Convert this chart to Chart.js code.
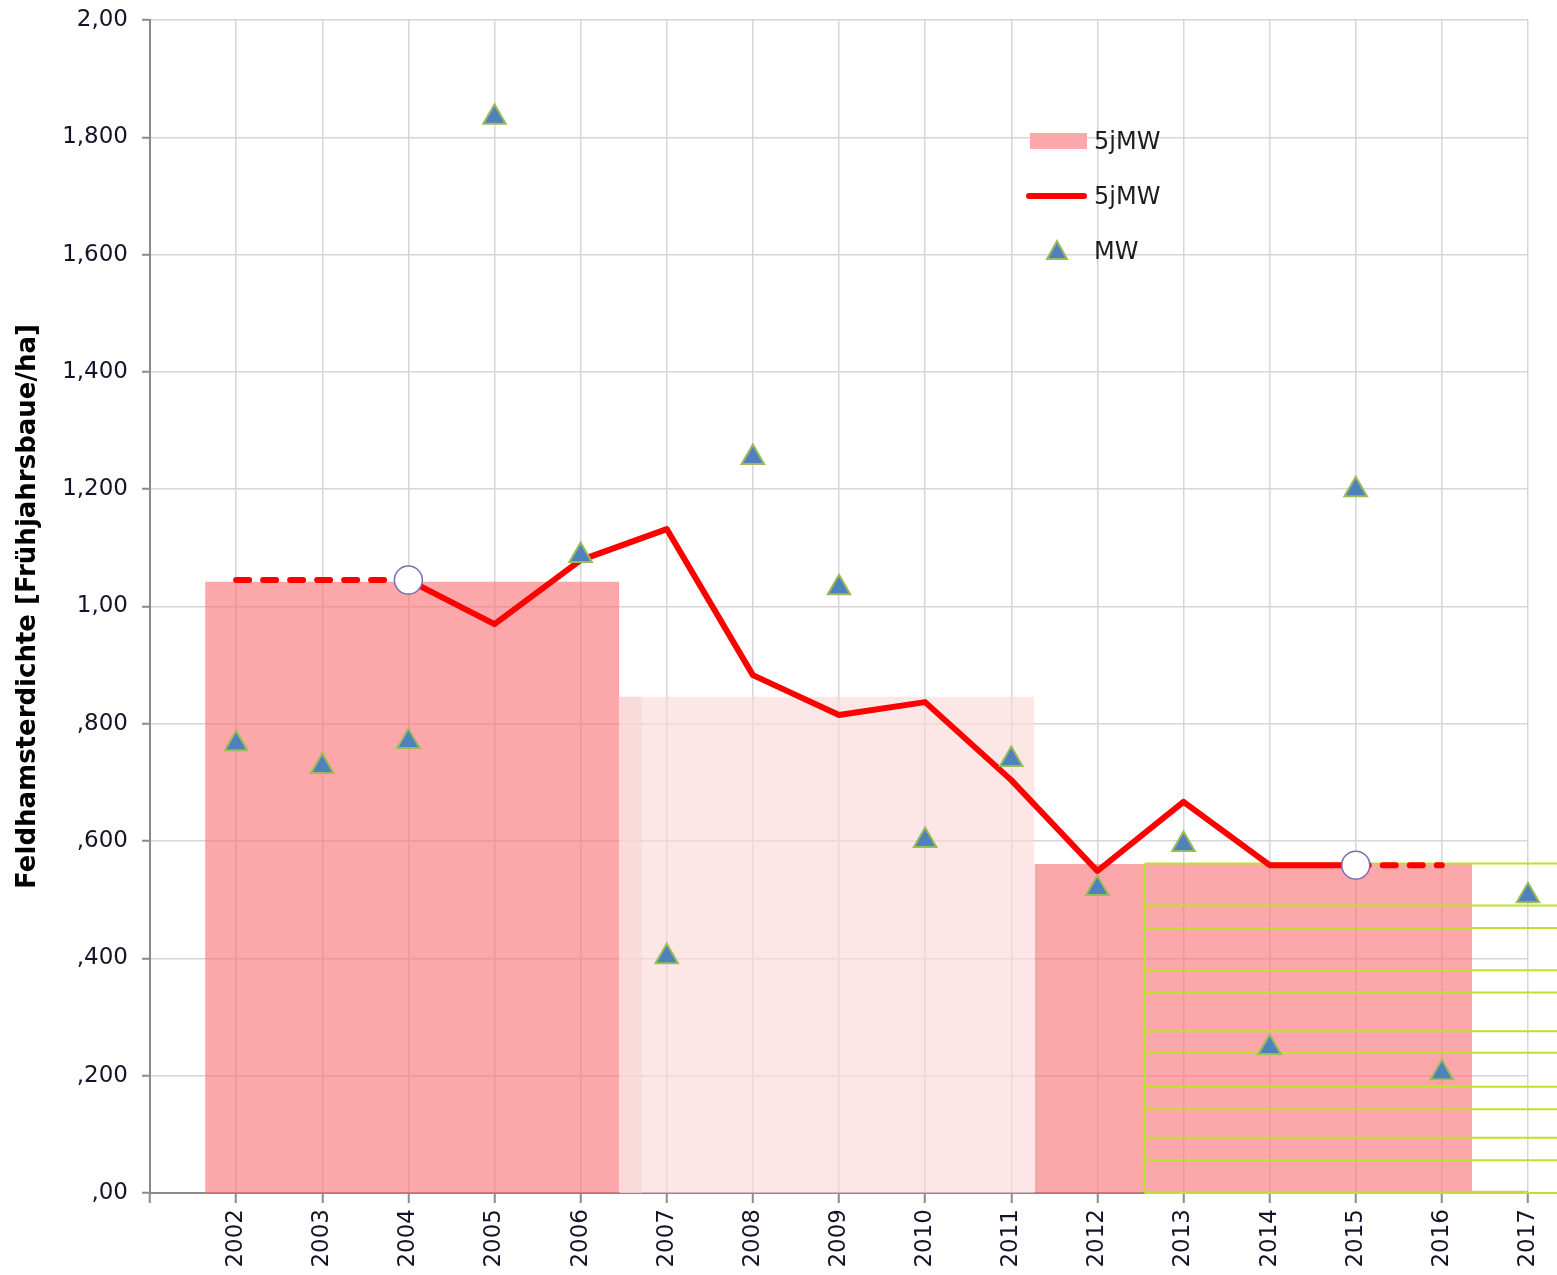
<!DOCTYPE html>
<html>
<head>
<meta charset="utf-8">
<script src="https://cdn.jsdelivr.net/npm/chart.js@4.4.1/dist/chart.umd.min.js"></script>
<style>
  html, body { margin: 0; padding: 0; background: #ffffff; }
  #wrap { position: relative; width: 1557px; height: 1275px; }
  #c { position: absolute; left: 0; top: 0; }
  .lg { position: absolute; font-family: "DejaVu Sans", Verdana, sans-serif; font-size: 24px; color: #1e1e1e; line-height: 24px; white-space: nowrap; }
  .lgbox { position: absolute; left: 1030px; top: 133px; width: 57px; height: 16px; background: #fca8aa; }
  .lgline { position: absolute; left: 1026px; top: 193px; width: 61px; height: 6px; border-radius: 3px; background: #ff0000; }
  .lgtri { position: absolute; left: 1045px; top: 239px; width: 24px; height: 22px; }
</style>
</head>
<body>
<div id="wrap">
  <canvas id="c" width="1557" height="1275"></canvas>
  <div class="lgbox"></div>
  <div class="lg" style="left:1094px; top:129px;">5jMW</div>
  <div class="lgline"></div>
  <div class="lg" style="left:1094px; top:184px;">5jMW</div>
  <svg class="lgtri" viewBox="0 0 24 22"><polygon points="12,2 22,20 2,20" fill="#4f81bd" stroke="#9bbb59" stroke-width="2"/></svg>
  <div class="lg" style="left:1094px; top:239px;">MW</div>
</div>
<script>
// ---- data ----
const years = [2002, 2003, 2004, 2005, 2006, 2007, 2008, 2009, 2010, 2011, 2012, 2013, 2014, 2015, 2016, 2017];
const xTickLabels = ["2002", "2003", "2004", "2005", "2006", "2007", "2008", "2009", "2010", "2011", "2012", "2013", "2014", "2015", "2016", "2017"];
const yTickLabels = [",00", ",200", ",400", ",600", ",800", "1,00", "1,200", "1,400", "1,600", "1,800", "2,00"];

// MW (triangles)
const mw = [0.766, 0.727, 0.770, 1.834, 1.087, 0.403, 1.254, 1.032, 0.601, 0.739, 0.519, 0.594, 0.248, 1.199, 0.205, 0.507];

// 5jMW line
const mw5Years = [2004, 2005, 2006, 2007, 2008, 2009, 2010, 2011, 2012, 2013, 2014, 2015];
const mw5 = [1.045, 0.970, 1.079, 1.132, 0.883, 0.815, 0.837, 0.704, 0.549, 0.667, 0.559, 0.559];
// dashed extensions
const dashStartYears = [2002, 2004];
const dashStartVals = [1.045, 1.045];
const dashEndYears = [2015, 2016];
const dashEndVals = [0.559, 0.559];
// open circle markers
const circleYears = [2004, 2015];
const circleVals = [1.045, 0.559];

// 5jMW blocks (x extents in years, height)
const blockStart = [2001.64, 2006.45, 2006.45, 2011.27, 2012.55, 2016.35];
const blockEnd   = [2006.45, 2011.27, 2006.71, 2012.55, 2016.35, 2017.00];
const blockVal   = [1.042, 0.846, 0.846, 0.561, 0.561, 0.004];
const blockColor = ["rgba(250,110,113,0.6)", "rgba(252,213,213,0.6)", "rgba(236,210,210,0.6)",
                    "rgba(250,110,113,0.6)", "rgba(250,110,113,0.6)", "rgba(250,110,113,0.6)"];

// hatch pattern (horizontal lines) over the last block
const hatchStart = 2012.55;
const hatchEnd = 2017.34;
const hatchLevels = [0.562, 0.490, 0.452, 0.380, 0.342, 0.276, 0.239, 0.181, 0.143, 0.094, 0.056, 0.0];

// ---- datasets ----
const datasets = [];

datasets.push({
  label: "MW", order: 0, clip: false,
  data: years.map((y, i) => ({ x: y, y: mw[i] })),
  showLine: false, pointStyle: "triangle", pointRadius: 13,
  pointBackgroundColor: "#4f81bd", pointBorderColor: "#9bbb59", pointBorderWidth: 2
});

datasets.push({
  label: "circles", order: 1,
  data: circleYears.map((y, i) => ({ x: y, y: circleVals[i] })),
  showLine: false, pointStyle: "circle", pointRadius: 14,
  pointBackgroundColor: "#ffffff", pointBorderColor: "#7d6bb0", pointBorderWidth: 1.5
});

datasets.push({
  label: "5jMW", order: 2,
  data: mw5Years.map((y, i) => ({ x: y, y: mw5[i] })),
  borderColor: "#ff0000", borderWidth: 6, pointRadius: 0, tension: 0,
  borderJoinStyle: "round", borderCapStyle: "round", fill: false
});
datasets.push({
  label: "5jMW dash a", order: 2,
  data: dashStartYears.map((y, i) => ({ x: y, y: dashStartVals[i] })),
  borderColor: "#ff0000", borderWidth: 6, pointRadius: 0, borderDash: [13, 14],
  borderCapStyle: "round", fill: false
});
datasets.push({
  label: "5jMW dash b", order: 2,
  data: dashEndYears.map((y, i) => ({ x: y, y: dashEndVals[i] })),
  borderColor: "#ff0000", borderWidth: 6, pointRadius: 0, borderDash: [13, 14],
  borderCapStyle: "round", fill: false
});

hatchLevels.forEach((h) => {
  datasets.push({
    label: "hatch", order: 3,
    data: [{ x: hatchStart, y: h }, { x: hatchEnd, y: h }],
    borderColor: "#bfe02c", borderWidth: 2, pointRadius: 0, fill: false, clip: false
  });
});
datasets.push({
  label: "hatch edge", order: 3,
  data: [{ x: hatchStart, y: 0 }, { x: hatchStart, y: hatchLevels[0] }],
  borderColor: "#bfe02c", borderWidth: 2, pointRadius: 0, fill: false, clip: false
});

blockStart.forEach((s, i) => {
  datasets.push({
    label: "5jMW block", order: 4,
    data: [{ x: s, y: blockVal[i] }, { x: blockEnd[i], y: blockVal[i] }],
    borderWidth: 0, borderColor: "rgba(0,0,0,0)", pointRadius: 0,
    backgroundColor: blockColor[i], fill: "origin"
  });
});

const tickFont = { family: "DejaVu Sans", size: 23 };

new Chart(document.getElementById("c"), {
  type: "line",
  data: { datasets },
  options: {
    responsive: false,
    animation: false,
    events: [],
    layout: { padding: { top: 20, right: 29, left: 0, bottom: 0 } },
    plugins: { legend: { display: false }, tooltip: { enabled: false } },
    scales: {
      x: {
        type: "linear", min: 2001, max: 2017,
        afterFit: (s) => { s.height = 82; s.paddingLeft = 0; s.paddingRight = 0; },
        grid: { color: "#d6d6d6", lineWidth: 1.5, tickLength: 10, tickColor: "#8a8a8a", tickWidth: 2 },
        border: { color: "#8a8a8a", width: 2 },
        ticks: {
          stepSize: 1, autoSkip: false, minRotation: 90, maxRotation: 90, padding: 6,
          color: "#141428", font: tickFont,
          callback: (v) => { const i = years.indexOf(v); return i >= 0 ? xTickLabels[i] : ""; }
        }
      },
      y: {
        min: 0, max: 2,
        afterFit: (s) => { s.width = 150; s.paddingTop = 0; s.paddingBottom = 0; },
        grid: { color: "#d6d6d6", lineWidth: 1.5, tickLength: 8, tickColor: "#8a8a8a", tickWidth: 2 },
        border: { color: "#8a8a8a", width: 2 },
        ticks: {
          stepSize: 0.2, padding: 14, color: "#141428", font: tickFont,
          callback: (v, i) => yTickLabels[i]
        },
        title: {
          display: true, text: "Feldhamsterdichte [Frühjahrsbaue/ha]",
          color: "#000000", font: { family: "DejaVu Sans", size: 26, weight: "bold" },
          padding: { top: 13, bottom: 0 }
        }
      }
    }
  }
});
</script>
</body>
</html>
